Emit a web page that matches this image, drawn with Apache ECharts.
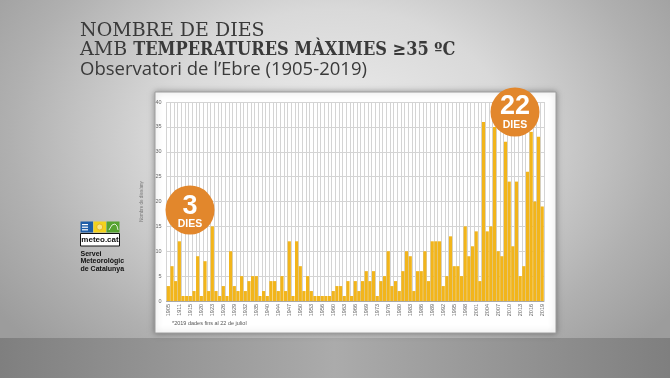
<!DOCTYPE html>
<html>
<head>
<meta charset="utf-8">
<script src="https://cdn.jsdelivr.net/npm/echarts@6/dist/echarts.min.js"></script>
<style>
  html, body { margin: 0; padding: 0; }
  body {
    width: 670px; height: 378px; overflow: hidden;
    background: radial-gradient(ellipse 62% 80% at 50% 36%, #ededed 0%, #d9d9d9 42%, #b0b0b0 78%, #9c9c9c 100%);
  }
  #chart { width: 670px; height: 378px; }
</style>
</head>
<body>
<div id="chart"></div>
<script>
// anys amb dades (falten alguns anys a la sèrie)
var anys = [1905, 1906, 1910, 1911, 1912, 1914, 1915, 1918, 1919, 1920,
  1921, 1922, 1923, 1924, 1925, 1926, 1927, 1928, 1929, 1930,
  1931, 1932, 1933, 1934, 1935, 1936, 1939, 1940, 1941, 1942,
  1944, 1945, 1946, 1947, 1948, 1949, 1950, 1951, 1952, 1953,
  1954, 1955, 1956, 1958, 1959, 1960, 1961, 1962, 1963, 1964,
  1965, 1966, 1967, 1968, 1969, 1970, 1972, 1973, 1974, 1975,
  1976, 1978, 1979, 1980, 1981, 1982, 1983, 1984, 1985, 1986,
  1987, 1988, 1989, 1990, 1991, 1992, 1993, 1994, 1995, 1996,
  1997, 1998, 1999, 2000, 2001, 2002, 2003, 2004, 2005, 2006,
  2007, 2008, 2009, 2010, 2011, 2012, 2013, 2014, 2015, 2016,
  2017, 2018, 2019];

// nombre de dies amb màxima >= 35 ºC
var dies = [3, 7, 4, 12, 1, 1, 1, 2, 9, 1,
  8, 2, 15, 2, 1, 3, 1, 10, 3, 2,
  5, 2, 4, 5, 5, 1, 2, 1, 4, 4,
  2, 5, 2, 12, 1, 12, 7, 2, 5, 2,
  1, 1, 1, 1, 1, 2, 3, 3, 1, 4,
  1, 4, 2, 4, 6, 4, 6, 1, 4, 5,
  10, 3, 4, 2, 6, 10, 9, 2, 6, 6,
  10, 4, 12, 12, 12, 3, 5, 13, 7, 7,
  5, 15, 9, 11, 14, 4, 36, 14, 15, 35,
  10, 9, 32, 24, 11, 24, 5, 7, 26, 34,
  20, 33, 19];

var yMin = 0, yMax = 40, yPas = 5;

var chart = echarts.init(document.getElementById('chart'));

var taronja = '#E2872C';
var groc = '#F2B51B';
var serif = '"DejaVu Serif"';
var serifC = '"DejaVu Serif Condensed", "DejaVu Serif"';

var option = {
  animation: false,
  grid: { left: 166.5, right: 126, top: 102, bottom: 77 },
  xAxis: {
    type: 'category',
    data: anys,
    axisLine: { lineStyle: { color: '#a8a8a8', width: 1 } },
    axisTick: { show: false },
    splitLine: { show: true, interval: 0, lineStyle: { color: '#d4d4d4', width: 1 } },
    axisLabel: {
      interval: 2,
      rotate: 90,
      fontSize: 5.5,
      color: '#666',
      margin: 3,
      fontFamily: 'Liberation Sans'
    }
  },
  yAxis: {
    type: 'value',
    min: yMin, max: yMax, interval: yPas,
    name: 'Nombre de dies/any',
    nameLocation: 'middle',
    nameGap: 10,
    nameTextStyle: { fontSize: 4.5, color: '#777', fontFamily: 'Liberation Sans' },
    axisLine: { show: false },
    axisTick: { show: false },
    splitLine: { lineStyle: { color: '#d4d4d4', width: 1 } },
    axisLabel: { fontSize: 5.5, color: '#666', margin: 5, fontFamily: 'Liberation Sans' }
  },
  series: [{
    type: 'bar',
    data: dies,
    barCategoryGap: '12%',
    itemStyle: { color: groc },
    z: 2
  }],
  graphic: [
    // terra de l'estudi
    {
      type: 'rect', z: -30,
      shape: { x: 0, y: 338, width: 670, height: 40 },
      style: {
        fill: new echarts.graphic.LinearGradient(0, 0, 1, 0, [
          { offset: 0, color: '#7f7f7f' },
          { offset: 0.5, color: '#ababab' },
          { offset: 1, color: '#7f7f7f' }
        ])
      }
    },
    // panell blanc
    {
      type: 'rect', z: -10,
      shape: { x: 155, y: 92, width: 401, height: 241 },
      style: { fill: '#ffffff', stroke: '#9c9c9c', lineWidth: 1, shadowBlur: 6, shadowColor: 'rgba(0,0,0,0.35)' }
    },
    // títols
    {
      type: 'text', x: 80, y: 41, z: 10,
      style: { text: 'NOMBRE DE DIES', fill: '#3a3a3a', font: '19px ' + serif, verticalAlign: 'bottom' }
    },
    {
      type: 'text', x: 80, y: 60, z: 10,
      style: {
        text: '{n|AMB }{b|TEMPERATURES MÀXIMES ≥35 ºC}',
        verticalAlign: 'bottom',
        rich: {
          n: { fill: '#3a3a3a', fontSize: 19, fontFamily: serif },
          b: { fill: '#3a3a3a', fontSize: 18, fontFamily: serifC, fontWeight: 'bold' }
        }
      }
    },
    {
      type: 'text', x: 80, y: 70, z: 10,
      style: { text: 'Observatori de l’Ebre (1905-2019)', fill: '#3a3a3a', font: '18.5px "Open Sans"', verticalAlign: 'middle' }
    },
    // nota
    {
      type: 'text', x: 172, y: 323, z: 10,
      style: { text: '*2019 dades fins al 22 de juliol', fill: '#555', font: '5.5px "Liberation Sans"', verticalAlign: 'middle' }
    },
    // cercle 3 dies
    { type: 'circle', z: 20, shape: { cx: 190, cy: 210, r: 24.5 }, style: { fill: taronja } },
    {
      type: 'text', x: 190, y: 207, z: 21,
      style: { text: '3', fill: '#fff', font: 'bold 27px "Liberation Sans"', align: 'center', verticalAlign: 'middle' }
    },
    {
      type: 'text', x: 190, y: 224, z: 21,
      style: { text: 'DIES', fill: '#fff', font: 'bold 10.5px "Liberation Sans"', align: 'center', verticalAlign: 'middle' }
    },
    // cercle 22 dies
    { type: 'circle', z: 20, shape: { cx: 515, cy: 112, r: 24.5 }, style: { fill: taronja } },
    {
      type: 'text', x: 515, y: 107, z: 21,
      style: { text: '22', fill: '#fff', font: 'bold 27px "Liberation Sans"', align: 'center', verticalAlign: 'middle' }
    },
    {
      type: 'text', x: 515, y: 125.5, z: 21,
      style: { text: 'DIES', fill: '#fff', font: 'bold 10.5px "Liberation Sans"', align: 'center', verticalAlign: 'middle' }
    },
    // logo meteo.cat
    { type: 'rect', z: 10, shape: { x: 80.5, y: 221.5, width: 12.5, height: 11 }, style: { fill: '#1f5ea8' } },
    { type: 'rect', z: 11, shape: { x: 82, y: 224, width: 6, height: 1.2 }, style: { fill: '#fff' } },
    { type: 'rect', z: 11, shape: { x: 82, y: 226.6, width: 6, height: 1.2 }, style: { fill: '#fff' } },
    { type: 'rect', z: 11, shape: { x: 82, y: 229.2, width: 6, height: 1.2 }, style: { fill: '#fff' } },
    { type: 'rect', z: 10, shape: { x: 93.5, y: 221.5, width: 12.5, height: 11 }, style: { fill: '#f3d21d' } },
    { type: 'circle', z: 11, shape: { cx: 99.7, cy: 227, r: 3 }, style: { fill: '#f7e98a', stroke: '#e9a81a', lineWidth: 0.8 } },
    { type: 'rect', z: 10, shape: { x: 106.5, y: 221.5, width: 13, height: 11 }, style: { fill: '#55a32f' } },
    {
      type: 'polyline', z: 11,
      shape: { points: [[109, 230], [112, 225], [115, 224], [117, 226], [118, 230]] },
      style: { stroke: '#fff', lineWidth: 0.8, fill: null }
    },
    { type: 'rect', z: 10, shape: { x: 80.5, y: 233.5, width: 39, height: 12.5 }, style: { fill: '#fff', stroke: '#111', lineWidth: 1 } },
    {
      type: 'text', x: 100, y: 240, z: 11,
      style: { text: 'meteo.cat', fill: '#111', font: 'bold 8px "Liberation Sans"', align: 'center', verticalAlign: 'middle' }
    },
    {
      type: 'text', x: 80.5, y: 254, z: 10,
      style: { text: 'Servei', fill: '#111', font: 'bold 7px "Liberation Sans"', verticalAlign: 'middle' }
    },
    {
      type: 'text', x: 80.5, y: 261.5, z: 10,
      style: { text: 'Meteorològic', fill: '#111', font: 'bold 7px "Liberation Sans"', verticalAlign: 'middle' }
    },
    {
      type: 'text', x: 80.5, y: 269, z: 10,
      style: { text: 'de Catalunya', fill: '#111', font: 'bold 7px "Liberation Sans"', verticalAlign: 'middle' }
    }
  ]
};

chart.setOption(option);
</script>
</body>
</html>
